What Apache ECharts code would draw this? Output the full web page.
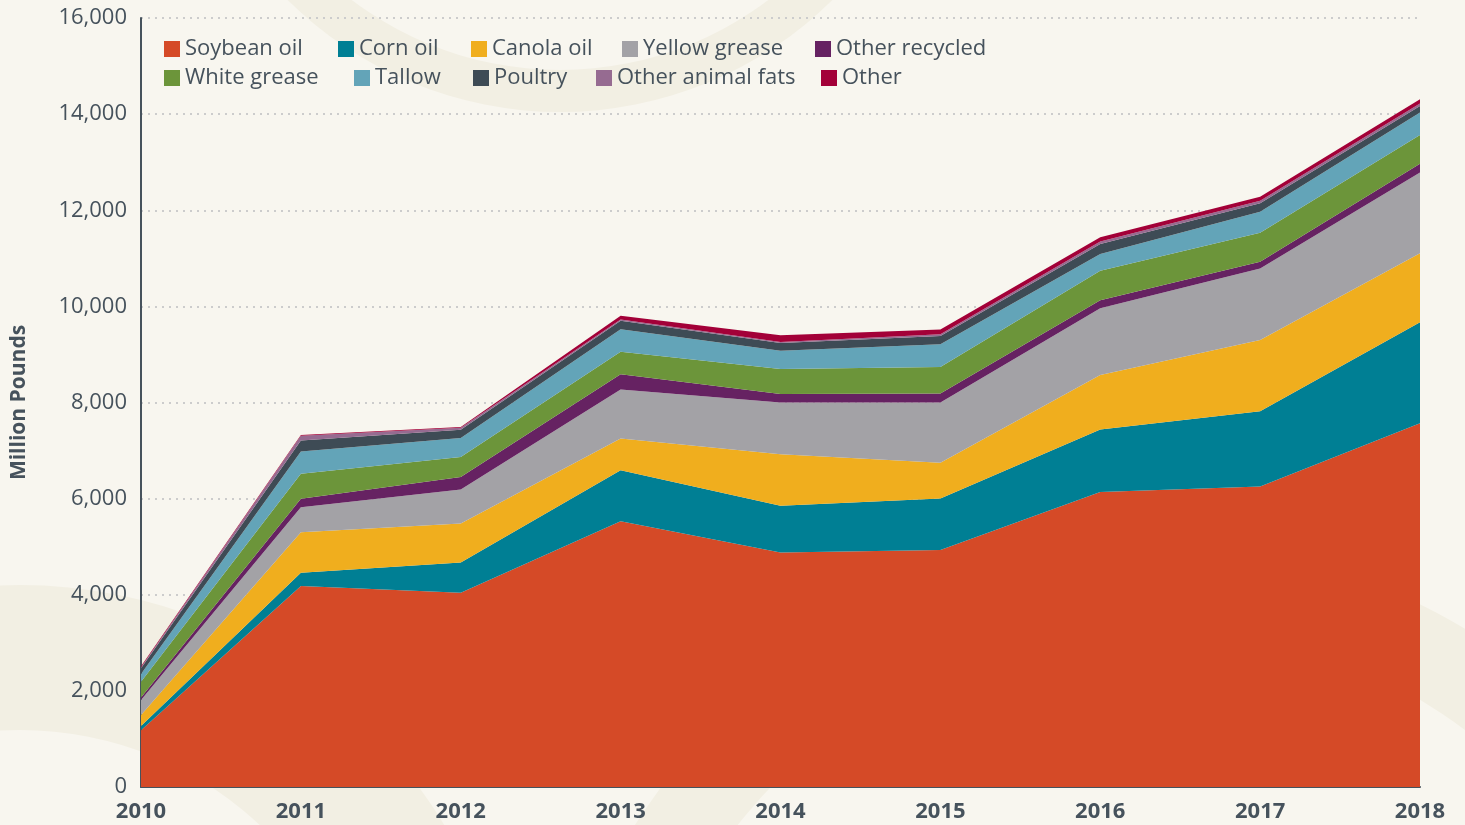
<!DOCTYPE html>
<html>
<head>
<meta charset="utf-8">
<title>Feedstocks</title>
<script src="https://cdn.jsdelivr.net/npm/echarts@6/dist/echarts.min.js"></script>
<style>
  html, body { margin: 0; padding: 0; background: #f8f6ef; }
  #main { width: 1465px; height: 825px; }
</style>
</head>
<body>
<div id="main"></div>
<script>
// years on the x axis
const years = ['2010', '2011', '2012', '2013', '2014', '2015', '2016', '2017', '2018'];
// y axis ticks
const yTicks = [0, 2000, 4000, 6000, 8000, 10000, 12000, 14000, 16000];

// million pounds
const soybeanOil = [1180, 4180, 4040, 5530, 4880, 4930, 6140, 6250, 7570];
const cornOil = [90, 280, 630, 1060, 970, 1075, 1300, 1570, 2100];
const canolaOil = [230, 840, 810, 660, 1075, 740, 1130, 1480, 1435];
const yellowGrease = [310, 520, 710, 1020, 1075, 1255, 1390, 1490, 1680];
const otherRecycled = [50, 175, 260, 320, 175, 185, 170, 140, 180];
const whiteGrease = [330, 520, 415, 465, 520, 555, 610, 600, 600];
const tallow = [160, 465, 395, 470, 380, 470, 350, 440, 470];
const poultry = [120, 230, 175, 175, 165, 175, 210, 175, 135];
const otherAnimalFats = [20, 100, 40, 25, 20, 35, 50, 55, 50];
const other = [20, 15, 15, 80, 140, 100, 90, 80, 90];

const seriesList = [
  { name: 'Soybean oil', data: soybeanOil, color: '#d54a27' },
  { name: 'Corn oil', data: cornOil, color: '#007f94' },
  { name: 'Canola oil', data: canolaOil, color: '#f0ae1e' },
  { name: 'Yellow grease', data: yellowGrease, color: '#a3a2a6' },
  { name: 'Other recycled', data: otherRecycled, color: '#662262' },
  { name: 'White grease', data: whiteGrease, color: '#6c953a' },
  { name: 'Tallow', data: tallow, color: '#63a4b8' },
  { name: 'Poultry', data: poultry, color: '#3e4b55' },
  { name: 'Other animal fats', data: otherAnimalFats, color: '#966b91' },
  { name: 'Other', data: other, color: '#a30038' }
];

const textColor = '#46525c';
const fontFamily = '"Open Sans", "Noto Sans", sans-serif';

// legend placement (icon left edge, row top) for each entry
const legendSpots = [
  [164, 38], [338, 38], [471, 38], [622, 38], [815, 38],
  [164, 67], [354, 67], [473, 67], [596, 67], [821, 67]
];

const chart = echarts.init(document.getElementById('main'));

const option = {
  backgroundColor: '#f8f6ef',
  animation: false,
  // faint decorative rings behind the chart
  graphic: [
    { type: 'ring', z: -10, silent: true, shape: { cx: 560, cy: -275, r: 387, r0: 345 }, style: { fill: '#f2efe3' } },
    { type: 'ring', z: -10, silent: true, shape: { cx: 20, cy: 1080, r: 495, r0: 350 }, style: { fill: '#f2efe3' } },
    { type: 'ring', z: -10, silent: true, shape: { cx: 1150, cy: 1150, r: 609, r0: 525 }, style: { fill: '#f2efe3' } }
  ],
  legend: seriesList.map((s, i) => ({
    data: [s.name],
    left: legendSpots[i][0],
    top: legendSpots[i][1],
    padding: 0,
    itemWidth: 16,
    itemHeight: 16,
    icon: 'rect',
    selectedMode: false,
    textStyle: { color: textColor, fontSize: 22, fontFamily: fontFamily }
  })),
  grid: { left: 141, right: 45, top: 18, bottom: 38 },
  xAxis: {
    type: 'category',
    boundaryGap: false,
    data: years,
    axisLine: { lineStyle: { color: '#46525c', width: 2 } },
    axisTick: { show: false },
    axisLabel: {
      color: textColor,
      fontSize: 22,
      fontWeight: 'bold',
      fontFamily: fontFamily,
      margin: 14
    }
  },
  yAxis: {
    type: 'value',
    min: yTicks[0],
    max: yTicks[yTicks.length - 1],
    interval: 2000,
    name: 'Million Pounds',
    nameLocation: 'middle',
    nameGap: 111,
    nameTextStyle: { color: textColor, fontSize: 21, fontWeight: 'bold', fontFamily: fontFamily },
    axisLine: { show: true, lineStyle: { color: '#46525c', width: 2 } },
    axisTick: { show: false },
    axisLabel: {
      color: textColor,
      fontSize: 22,
      fontFamily: fontFamily,
      margin: 14,
      formatter: v => v.toLocaleString('en-US')
    },
    splitLine: { lineStyle: { color: '#cccccc', width: 2, type: [2, 5] } }
  },
  series: seriesList.map(s => ({
    name: s.name,
    type: 'line',
    stack: 'total',
    data: s.data,
    symbol: 'none',
    lineStyle: { width: 0 },
    areaStyle: { color: s.color, opacity: 1 },
    itemStyle: { color: s.color },
    z: 3
  }))
};

chart.setOption(option);
</script>
</body>
</html>
